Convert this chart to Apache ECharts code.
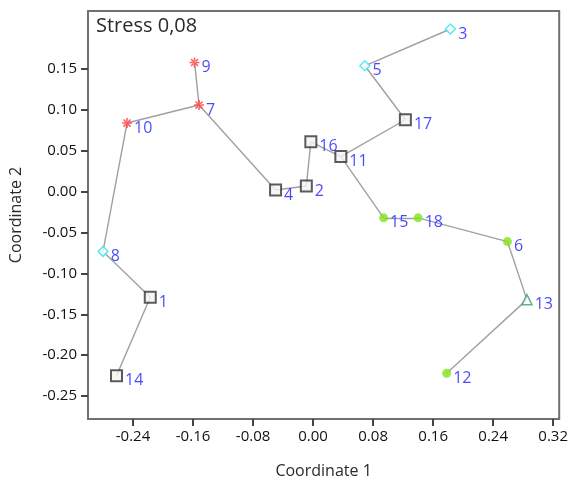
<!DOCTYPE html>
<html>
<head>
<meta charset="utf-8">
<script src="https://cdn.jsdelivr.net/npm/echarts@6/dist/echarts.min.js"></script>
<style>
  html, body { margin: 0; padding: 0; background: #fff; }
  #chart { width: 571px; height: 484px; }
</style>
</head>
<body>
<div id="chart"></div>
<script>
// sample ids and NMDS coordinates
const ids = ['1','2','3','4','5','6','7','8','9','10','11','12','13','14','15','16','17','18'];
const coord1 = [-0.217, -0.009, 0.183, -0.050, 0.069, 0.259, -0.152, -0.280, -0.158, -0.248, 0.037, 0.178, 0.285, -0.262, 0.094, -0.003, 0.123, 0.140];
const coord2 = [-0.129, 0.007, 0.199, 0.002, 0.154, -0.061, 0.106, -0.073, 0.158, 0.084, 0.043, -0.222, -0.132, -0.225, -0.032, 0.061, 0.088, -0.032];

// group membership (ids)
const groupRed = ['7', '9', '10'];
const groupCyan = ['3', '5', '8'];
const groupSquare = ['1', '2', '4', '11', '14', '16', '17'];
const groupGreen = ['6', '12', '15', '18'];
const groupTriangle = ['13'];

// minimum spanning tree
const edges = [
  ['9', '7'], ['7', '10'], ['10', '8'], ['8', '1'], ['1', '14'],
  ['7', '4'], ['4', '2'], ['2', '16'], ['16', '11'], ['11', '17'],
  ['17', '5'], ['5', '3'], ['11', '15'], ['15', '18'], ['18', '6'],
  ['6', '13'], ['13', '12']
];

const xTicks = [-0.24, -0.16, -0.08, 0.00, 0.08, 0.16, 0.24, 0.32];
const yTicks = [-0.25, -0.20, -0.15, -0.10, -0.05, 0.00, 0.05, 0.10, 0.15];

const FONT = 'Open Sans';
const pt = id => { const i = ids.indexOf(id); return [coord1[i], coord2[i]]; };
const pts = group => group.map(id => ({ name: id, value: pt(id) }));

const asterisk = 'path://M-5,-0.8L5,-0.8L5,0.8L-5,0.8Z M-0.8,-5L0.8,-5L0.8,5L-0.8,5Z ' +
  'M-4.11,-2.97L-2.97,-4.11L4.11,2.97L2.97,4.11Z M4.11,-2.97L2.97,-4.11L-4.11,2.97L-2.97,4.11Z';

const label = {
  show: true,
  position: 'right',
  distance: 2,
  offset: [0, 5],
  formatter: p => p.name,
  color: '#1a1aff',
  fontFamily: FONT,
  fontSize: 16
};

const chart = echarts.init(document.getElementById('chart'), null, { renderer: 'canvas' });

chart.setOption({
  animation: false,
  backgroundColor: '#fff',
  grid: {
    left: 86, right: 8, top: 11, bottom: 65,
    show: true, borderColor: '#707070', borderWidth: 2, backgroundColor: '#fff'
  },
  graphic: [{
    type: 'text', left: 96, top: 16,
    style: { text: 'Stress 0,08', fill: '#2a2a2a', fontFamily: FONT, fontSize: 20 }
  }],
  xAxis: {
    type: 'value', min: -0.30, max: 0.328,
    name: 'Coordinate 1', nameLocation: 'middle', nameGap: 44,
    nameTextStyle: { color: '#2a2a2a', fontFamily: FONT, fontSize: 16 },
    axisLine: { show: false, onZero: false },
    axisTick: { show: true, customValues: xTicks, length: 7, lineStyle: { color: '#444', width: 2 } },
    axisLabel: { customValues: xTicks, formatter: v => v.toFixed(2), color: '#111', fontFamily: FONT, fontSize: 15, margin: 10 },
    splitLine: { show: false }
  },
  yAxis: {
    type: 'value', min: -0.278, max: 0.221,
    name: 'Coordinate 2', nameLocation: 'middle', nameGap: 64,
    nameTextStyle: { color: '#2a2a2a', fontFamily: FONT, fontSize: 16 },
    axisLine: { show: false, onZero: false },
    axisTick: { show: true, customValues: yTicks, length: 7, lineStyle: { color: '#444', width: 2 } },
    axisLabel: { customValues: yTicks, formatter: v => v.toFixed(2), color: '#111', fontFamily: FONT, fontSize: 15, margin: 11 },
    splitLine: { show: false }
  },
  series: [
    {
      type: 'lines',
      coordinateSystem: 'cartesian2d',
      silent: true,
      lineStyle: { color: '#a0a0a0', width: 1.4, opacity: 1 },
      data: edges.map(([a, b]) => ({ coords: [pt(a), pt(b)] }))
    },
    {
      type: 'scatter', name: 'red', symbol: asterisk, symbolSize: 10,
      itemStyle: { color: '#ff3b3b' }, label, data: pts(groupRed)
    },
    {
      type: 'scatter', name: 'cyan', symbol: 'diamond', symbolSize: 10,
      itemStyle: { color: '#fff', borderColor: '#2ee6f0', borderWidth: 1.5 }, label, data: pts(groupCyan)
    },
    {
      type: 'scatter', name: 'square', symbol: 'rect', symbolSize: 11,
      itemStyle: { color: '#f4f4f4', borderColor: '#333', borderWidth: 2 }, label, data: pts(groupSquare)
    },
    {
      type: 'scatter', name: 'green', symbol: 'circle', symbolSize: 9,
      itemStyle: { color: '#7fe51a' }, label, data: pts(groupGreen)
    },
    {
      type: 'scatter', name: 'triangle', symbol: 'triangle', symbolSize: 10,
      itemStyle: { color: '#fff', borderColor: '#3d9b6e', borderWidth: 1.5 }, label, data: pts(groupTriangle)
    }
  ]
});
</script>
</body>
</html>
